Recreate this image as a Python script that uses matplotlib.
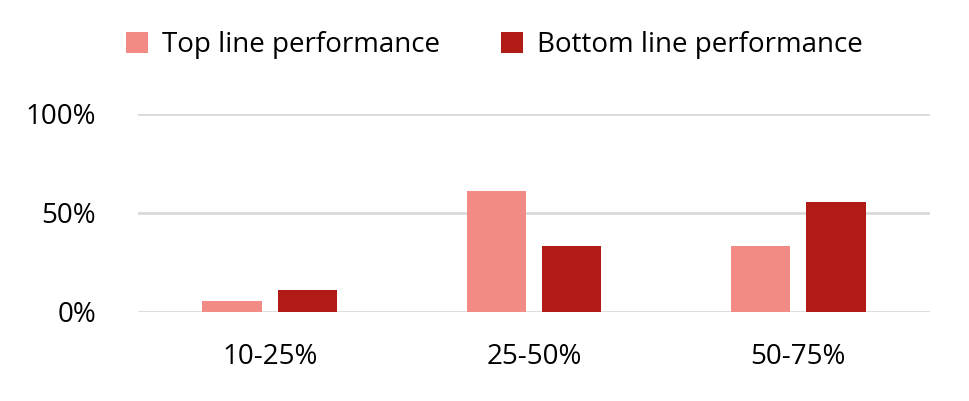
import matplotlib
matplotlib.use("Agg")
import matplotlib.pyplot as plt
import numpy as np

categories = ["10-25%", "25-50%", "50-75%"]
top_line = [5.6, 61.1, 33.3]
bottom_line = [11.1, 33.3, 55.6]
series_names = ["Top line performance", "Bottom line performance"]
yticks = [0, 50, 100]
ytick_labels = ["0%", "50%", "100%"]

plt.rcParams['font.family'] = ['Open Sans', 'DejaVu Sans']
fig = plt.figure(figsize=(9.69, 4.01), dpi=100)
ax = fig.add_axes([0.142, 0.222, 0.818, 0.494])
x = np.arange(len(categories))
w = 0.225
ax.bar(x - 0.1425, top_line, w, color="#F28B85", label=series_names[0], zorder=3)
ax.bar(x + 0.1425, bottom_line, w, color="#B01C15", label=series_names[1], zorder=3)
ax.set_xlim(-0.5, 2.5)
ax.set_ylim(0, 100)
ax.set_yticks(yticks)
ax.set_yticklabels(ytick_labels, fontsize=20)
ax.set_xticks(x)
ax.set_xticklabels(categories, fontsize=20)
ax.grid(axis='y', color="#D9D9D9", linewidth=2, zorder=0)
for s in ax.spines.values():
    s.set_visible(False)
ax.tick_params(length=0, pad=22)
ax.tick_params(axis='y', pad=30)
fig.legend(loc='upper center', bbox_to_anchor=(0.51, 0.985), ncol=2, frameon=False,
           fontsize=20, handlelength=0.8, handleheight=0.8, columnspacing=2.2, handletextpad=0.5)
fig.savefig("out.png", dpi=100)
